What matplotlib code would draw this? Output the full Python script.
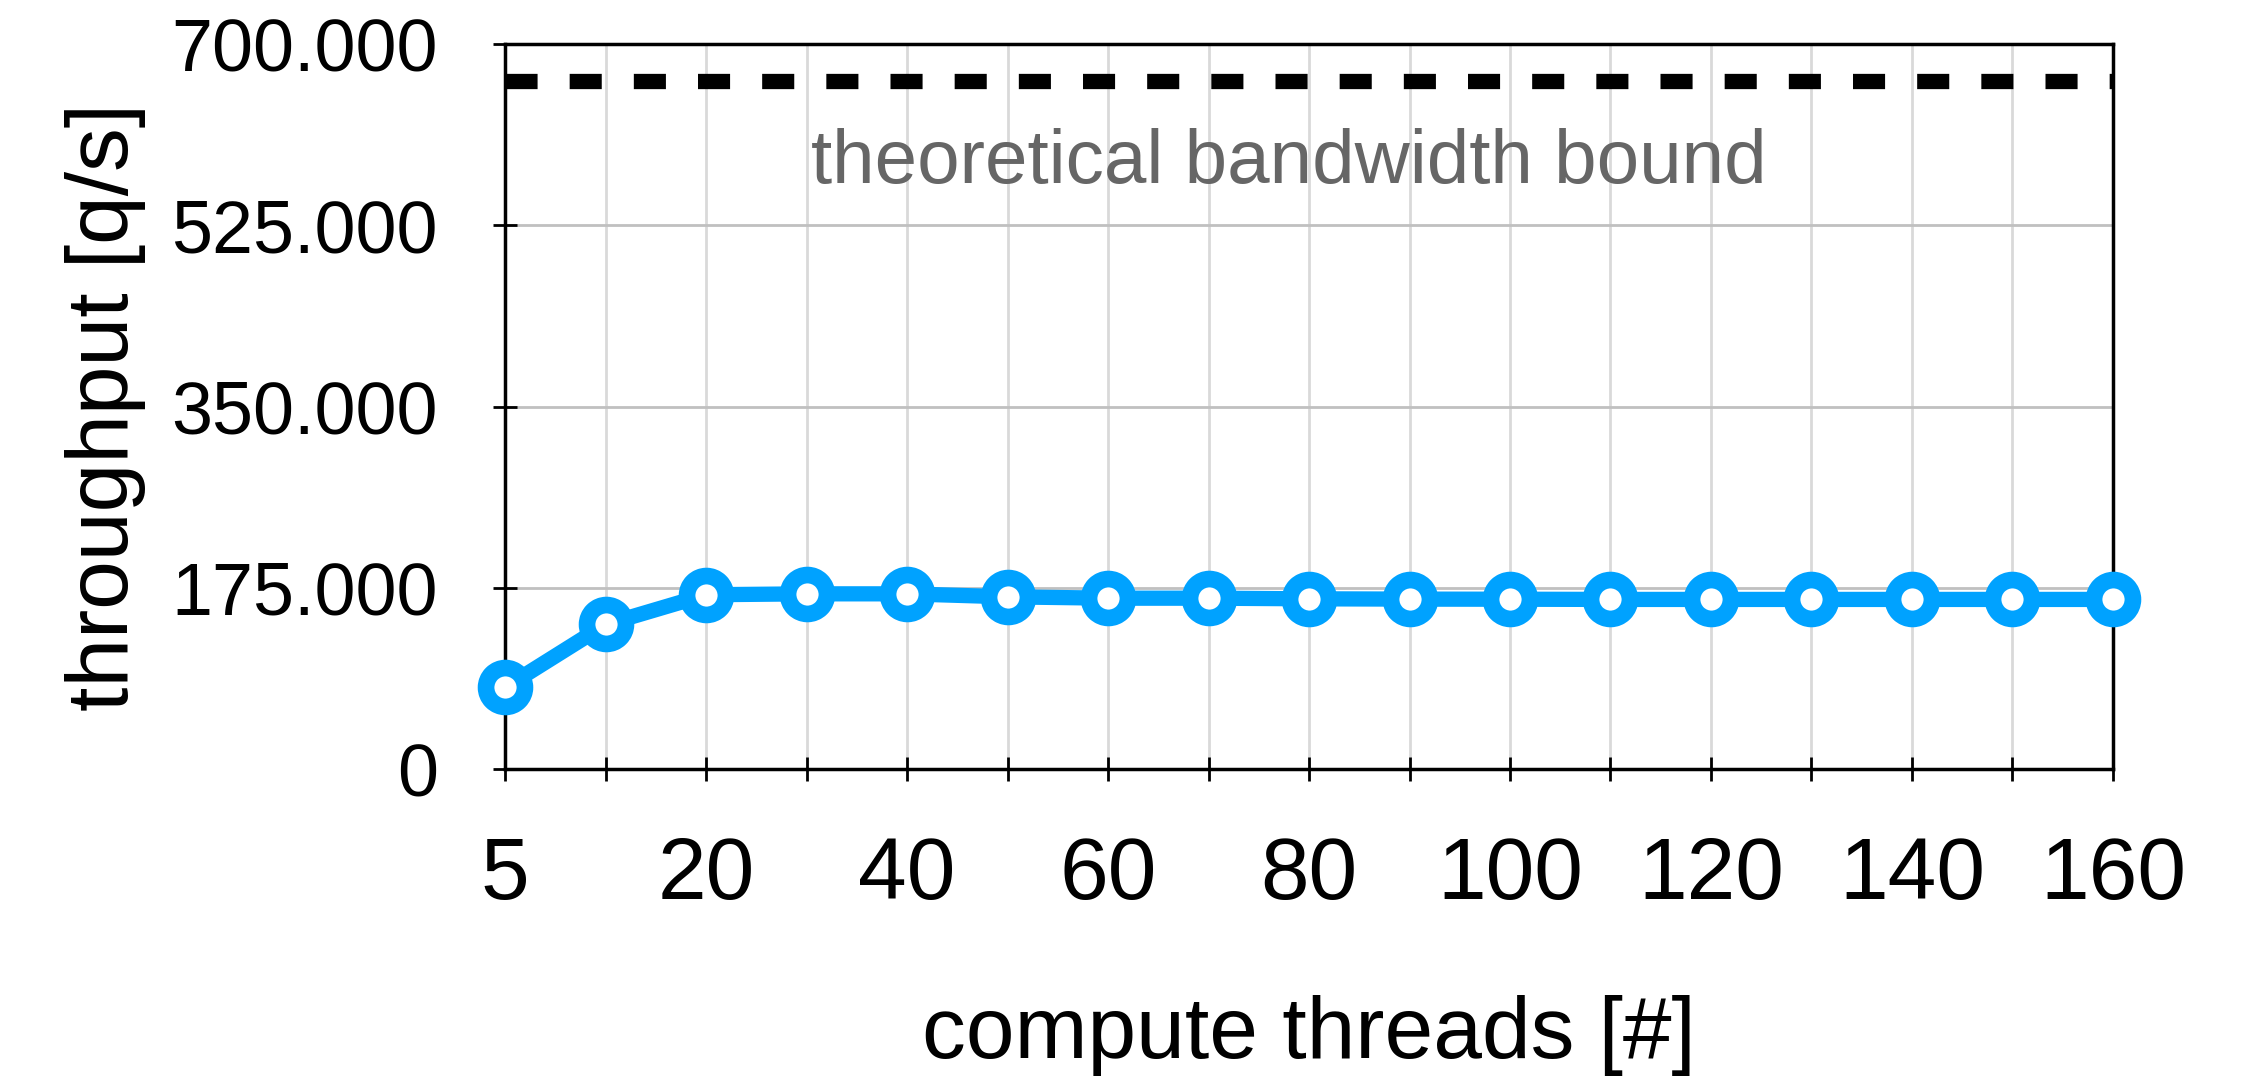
import matplotlib
matplotlib.use("Agg")
import matplotlib.pyplot as plt
from matplotlib.ticker import FuncFormatter

plt.rcParams['font.family'] = ['Liberation Sans', 'DejaVu Sans']

threads = [5, 10, 20, 30, 40, 50, 60, 70, 80, 90, 100, 110, 120, 130, 140, 150, 160]
throughput = [78800, 139600, 168300, 169200, 169200, 166300, 165000, 165000, 164400,
              164100, 164000, 163800, 163800, 163800, 163800, 163800, 163800]
bandwidth_bound = 664000
y_ticks = [0, 175000, 350000, 525000, 700000]
shown_labels = [5, 20, 40, 60, 80, 100, 120, 140, 160]

fig = plt.figure(figsize=(22.55, 10.78), dpi=100)
ax = fig.add_axes([0.224, 0.2866, 0.713, 0.6724])

pos = list(range(len(threads)))
ax.axhline(bandwidth_bound, color="black", lw=11, dashes=(2.1, 2.1), zorder=3)
ax.plot(pos, throughput, color="#00A2FF", lw=11, marker="o", ms=28, mew=12,
        mfc="white", mec="#00A2FF", zorder=4, clip_on=False)

ax.text(0.4876, 585000, "theoretical bandwidth bound", transform=ax.get_yaxis_transform(),
        ha="center", va="center", fontsize=55, color="#666666")

ax.set_xlim(0, len(threads) - 1)
ax.set_ylim(0, 700000)
ax.set_xticks(pos)
ax.set_xticklabels([str(t) if t in shown_labels else "" for t in threads])
ax.set_yticks(y_ticks)
ax.yaxis.set_major_formatter(FuncFormatter(lambda v, p: "0" if v == 0 else f"{int(v):,}".replace(",", ".")))

ax.grid(axis="x", color="#d9d9d9", lw=2)
ax.grid(axis="y", color="#c0c0c0", lw=2)
ax.set_axisbelow(True)
for s in ax.spines.values():
    s.set_linewidth(2.5)
    s.set_color("black")

ax.tick_params(axis="x", direction="inout", length=17, width=2, labelsize=63, pad=40)
ax.tick_params(axis="y", direction="inout", length=17, width=2, labelsize=53, pad=40)

ax.set_xlabel("compute threads [#]", fontsize=63, labelpad=56)
ax.set_ylabel("throughput [q/s]", fontsize=63, labelpad=18)

fig.savefig("out.png", dpi=100)
